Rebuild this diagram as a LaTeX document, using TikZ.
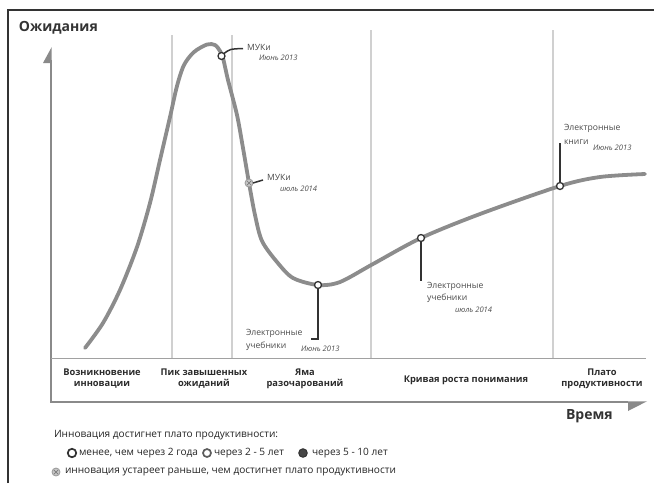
\documentclass[tikz,border=0pt]{standalone}
\usepackage{fontspec}
\setmainfont{Open Sans}
\definecolor{curvec}{HTML}{8C8C8C}
\definecolor{sepc}{HTML}{D0D0D0}
\definecolor{axisc}{HTML}{8A8A8A}
\definecolor{inkc}{HTML}{333333}
\definecolor{lblc}{HTML}{4A4A4A}
\begin{document}
\begin{tikzpicture}[x=1pt,y=-1pt,
  every node/.style={inner sep=0pt,outer sep=0pt},
  sepline/.style={draw=sepc,line width=1.2pt},
  axisline/.style={draw=axisc,line width=1.4pt},
  bandline/.style={draw=axisc!80,line width=1pt},
  curveline/.style={draw=curvec,line width=3.8pt,line cap=round,line join=round},
  openmark/.style={circle,draw=inkc,line width=1.3pt,fill=white,minimum size=7pt},
  midmark/.style={circle,draw=inkc!80,line width=1.7pt,fill=white,minimum size=8pt},
  fullmark/.style={circle,draw=inkc,line width=1pt,fill=inkc!90,minimum size=8.5pt},
  oldmark/.style={circle,draw=gray!80,line width=0.8pt,fill=gray!45,minimum size=8pt,
     path picture={\draw[gray!95!black,line width=0.7pt]
       ([xshift=1.8pt,yshift=-1.8pt]path picture bounding box.north west) -- ([xshift=-1.8pt,yshift=1.8pt]path picture bounding box.south east)
       ([xshift=-1.8pt,yshift=-1.8pt]path picture bounding box.north east) -- ([xshift=1.8pt,yshift=1.8pt]path picture bounding box.south west);}},
  leader/.style={draw=inkc,line width=1.5pt},
  phase/.style={font=\fontsize{9.3}{11}\selectfont\bfseries,text=inkc!85!black,align=center},
  annot/.style={font=\fontsize{8.6}{10}\selectfont,text=lblc,anchor=west},
  datel/.style={font=\fontsize{7.6}{9}\selectfont\itshape,text=lblc,anchor=west},
  legtext/.style={font=\fontsize{10.1}{12}\selectfont,text=inkc!70!black,anchor=west},
  axtitle/.style={font=\fontsize{14}{16}\selectfont\bfseries,text=inkc,anchor=west}]
\useasboundingbox (0,0) rectangle (654,483);
% frame
\draw[draw=inkc,line width=1.5pt] (8,483) -- (8,10) -- (654,10);
% titles
\node[axtitle] (ytitle) at (19,28) {Ожидания};
\node[axtitle] (xtitle) at (566,416) {Время};
% phase separators
\draw[sepline] (172,35) -- (172,358);
\draw[sepline] (232,35) -- (232,358);
\draw[sepline] (371,30) -- (371,358);
\draw[sepline] (553,30) -- (553,358);
% axes
\draw[axisline] (51,60) -- (51,402) -- (628,402);
\fill[axisc] (43,63) -- (51.7,63) -- (51.7,47) -- cycle;
\fill[axisc] (628,401.3) -- (647,401.3) -- (628,411) -- cycle;
\draw[bandline] (51,358) -- (646,358);
% phase labels
\node[phase] (p1) at (102,379) {Возникновение\\инновации};
\node[phase] (p2) at (204,379) {Пик завышенных\\ожиданий};
\node[phase] (p3) at (305,379) {Яма\\разочарований};
\node[phase] (p4) at (466,380) {Кривая роста понимания};
\node[phase] (p5) at (602,379) {Плато\\продуктивности};
% hype curve
\draw[curveline] plot[smooth,tension=0.5] coordinates {
 (85,348) (103,323) (120,290) (137,247) (150,203) (160,160) (170,117)
 (177,86) (184,65) (194,52) (207,44.5) (215,45) (220,51) (223,58)
 (228,80) (237,115) (243,148) (249,183) (255,215) (262,241)
 (277,262) (293,278) (318,285) (340,282) (373,264) (421,238)
 (480,214) (560,186) (600,177) (645,174)};
% markers
\node[openmark] (m1) at (221.5,56) {};
\node[oldmark]  (m2) at (249,183) {};
\node[openmark] (m3) at (318,285) {};
\node[openmark] (m4) at (421,238) {};
\node[openmark] (m5) at (560,186) {};
\coordinate (l1) at (243,48.5);
\coordinate (l2) at (263,180);
\coordinate (l3a) at (318,339);
\coordinate (l3b) at (311,339);
\coordinate (l4) at (421,281);
\coordinate (l5) at (560,143);
\draw[leader] (m1.north east) .. controls (230,49) .. (l1);
\draw[leader] (m2.east) -- (l2);
\draw[leader] (m3.south) -- (l3a) -- (l3b);
\draw[leader] (m4.south) -- (l4);
\draw[leader] (m5.north) -- (l5);
% annotations
\node[annot] (a1) at (247,47.5) {МУКи};
\node[datel] (d1) at (259,58) {Июнь 2013};
\node[annot] (a2) at (267,177.5) {МУКи};
\node[datel] (d2) at (280,189) {июль 2014};
\node[annot] (a3) at (246,333) {Электронные};
\node[annot] (a3b) at (246,346) {учебники};
\node[datel] (d3) at (301,349) {Июнь 2013};
\node[annot] (a4) at (427,286) {Электронные};
\node[annot] (a4b) at (427,298) {учебники};
\node[datel] (d4) at (455,310) {июль 2014};
\node[annot] (a5) at (564,128) {Электронные};
\node[annot] (a5b) at (564,142) {книги};
\node[datel] (d5) at (593,148) {Июнь 2013};
% legend
\node[legtext] (lg0) at (54,435) {Инновация достигнет плато продуктивности:};
\node[openmark,minimum size=8.5pt,line width=1.7pt] (k1) at (72,453) {};
\node[legtext] (t1) at (79,453) {менее, чем через 2 года};
\node[midmark] (k2) at (207,453) {};
\node[legtext] (t2) at (214,453) {через 2 - 5 лет};
\node[fullmark] (k3) at (303,453) {};
\node[legtext] (t3) at (312,453) {через 5 - 10 лет};
\node[oldmark] (k4) at (56,472) {};
\node[legtext] (t4) at (65,472) {инновация устареет раньше, чем достигнет плато продуктивности};
\end{tikzpicture}
\end{document}
